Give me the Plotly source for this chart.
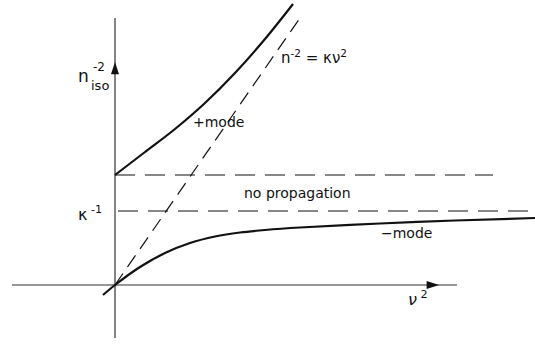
import plotly.graph_objects as go

# Dispersion of the two modes: n_iso^-2 against nu^2
plus_nu2 = [0.0, 0.30, 0.60, 0.90, 1.20, 1.50, 1.78]
plus_n2 = [1.10, 1.33, 1.56, 1.82, 2.12, 2.46, 2.81]

minus_nu2 = [-0.12, 0.0, 0.25, 0.50, 0.75, 1.00, 1.25, 1.50, 1.85, 2.65, 3.40, 4.20]
minus_n2 = [-0.10, 0.0, 0.18, 0.32, 0.42, 0.485, 0.525, 0.55, 0.575, 0.615, 0.645, 0.67]

# n^-2 = kappa nu^2 reference line
line_nu2 = [0.0, 1.87]
line_n2 = [0.0, 2.70]

# horizontal levels: cutoff of the + mode and kappa^-1
cutoff_level = 1.10
cutoff_nu2 = [0.0, 3.78]
kappa_inv = 0.74
kappa_nu2 = [0.03, 4.15]

# axis extents and arrowhead positions
x_axis_span = [-1.03, 3.42]
y_axis_span = [-0.53, 2.67]
x_arrow_at = 3.24
y_arrow_at = 2.23

BLACK = "#111111"
FONT = "DejaVu Sans, Liberation Sans, sans-serif"

fig = go.Figure()

# axes drawn as plain lines through the origin
fig.add_trace(go.Scatter(x=x_axis_span, y=[0, 0], mode="lines",
                         line=dict(color="#333333", width=1.2), hoverinfo="skip"))
fig.add_trace(go.Scatter(x=[0, 0], y=y_axis_span, mode="lines",
                         line=dict(color="#333333", width=1.2), hoverinfo="skip"))

# arrowheads on the axes
fig.add_trace(go.Scatter(x=[x_arrow_at], y=[0], mode="markers", hoverinfo="skip",
                         marker=dict(symbol="arrow", angle=90, size=13, color=BLACK,
                                     line=dict(width=0))))
fig.add_trace(go.Scatter(x=[0], y=[y_arrow_at], mode="markers", hoverinfo="skip",
                         marker=dict(symbol="arrow", angle=0, size=13, color=BLACK,
                                     line=dict(width=0))))

# dashed guides
fig.add_trace(go.Scatter(x=cutoff_nu2, y=[cutoff_level] * 2, mode="lines",
                         line=dict(color=BLACK, width=1.2, dash="20px,10px"), hoverinfo="skip"))
fig.add_trace(go.Scatter(x=kappa_nu2, y=[kappa_inv] * 2, mode="lines",
                         line=dict(color=BLACK, width=1.2, dash="20px,10px"), hoverinfo="skip"))
fig.add_trace(go.Scatter(x=line_nu2, y=line_n2, mode="lines",
                         line=dict(color=BLACK, width=1.2, dash="14px,8px"), hoverinfo="skip"))

# the two modes
fig.add_trace(go.Scatter(x=plus_nu2, y=plus_n2, mode="lines", line_shape="spline",
                         line=dict(color=BLACK, width=2.2), hoverinfo="skip"))
fig.add_trace(go.Scatter(x=minus_nu2, y=minus_n2, mode="lines", line_shape="spline",
                         line=dict(color=BLACK, width=2.2), hoverinfo="skip"))


def label(x, y, text, size=14, **kw):
    fig.add_annotation(x=x, y=y, text=text, showarrow=False, xref="x", yref="y",
                       font=dict(family=FONT, size=size, color=BLACK), **kw)


label(-0.32, 2.09, "n", size=17)
label(-0.16, 2.18, "-2", size=12)
label(-0.15, 2.00, "iso", size=13)
label(1.03, 1.63, "+mode")
label(1.99, 2.28, "n<sup>-2</sup> = κν<sup>2</sup>", size=15)
label(1.82, 0.92, "no propagation")
label(-0.25, 0.72, "κ<sup> -1</sup>", size=16)
label(2.91, 0.52, "−mode")
label(3.03, -0.13, "<i>ν</i><sup> 2</sup>", size=16)

fig.update_layout(
    width=535, height=344,
    margin=dict(l=0, r=0, t=0, b=0),
    paper_bgcolor="white", plot_bgcolor="white",
    showlegend=False,
    xaxis=dict(range=[-1.15, 4.20], visible=False, fixedrange=True),
    yaxis=dict(range=[-0.59, 2.85], visible=False, fixedrange=True),
)

fig.write_html("out.html")
